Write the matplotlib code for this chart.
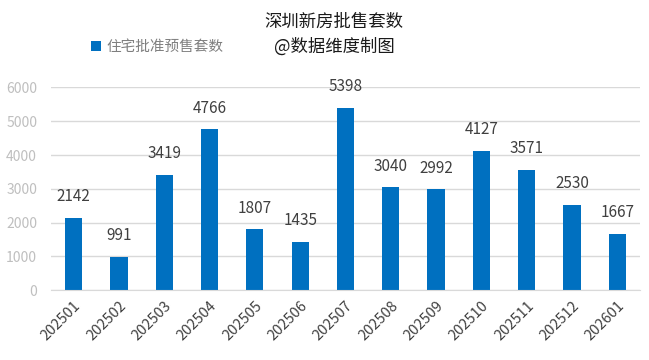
import matplotlib
matplotlib.use("Agg")
import matplotlib.pyplot as plt

plt.rcParams['font.family'] = ['Noto Sans CJK SC', 'DejaVu Sans']

months = ["202501", "202502", "202503", "202504", "202505", "202506", "202507",
          "202508", "202509", "202510", "202511", "202512", "202601"]
values = [2142, 991, 3419, 4766, 1807, 1435, 5398, 3040, 2992, 4127, 3571, 2530, 1667]
series_name = "住宅批准预售套数"
title_line1 = "深圳新房批售套数"
title_line2 = "@数据维度制图"
yticks = [0, 1000, 2000, 3000, 4000, 5000, 6000]

bar_color = "#0070c0"

fig = plt.figure(figsize=(6.49, 3.6), dpi=100)
ax = fig.add_axes([0.0786, 0.194, 0.9074, 0.563])

x = list(range(len(months)))
bars = ax.bar(x, values, width=0.38, color=bar_color, zorder=3)
for xi, v in zip(x, values):
    ax.annotate(str(v), (xi, v), xytext=(0, 9), textcoords="offset points",
                ha="center", va="bottom", fontsize=11, color="#404040")

ax.set_xlim(-0.5, len(months) - 0.5)
ax.set_ylim(0, 6000)
ax.set_yticks(yticks)
ax.set_yticklabels([str(t) for t in yticks], fontsize=10, color="#bfbfbf")
ax.set_xticks(x)
ax.set_xticklabels(months, rotation=45, ha="right", rotation_mode="anchor",
                   fontsize=10.5, color="#404040")
ax.tick_params(axis="both", length=0, pad=6)
ax.tick_params(axis="y", pad=10)
ax.yaxis.grid(True, color="#d9d9d9", linewidth=1, zorder=0)
for s in ["top", "right", "left"]:
    ax.spines[s].set_visible(False)
ax.spines["bottom"].set_color("#d9d9d9")
ax.spines["bottom"].set_zorder(4)

fig.text(0.515, 0.94, title_line1, ha="center", va="center", fontsize=12.5, color="#1a1a1a")
fig.text(0.515, 0.87, title_line2, ha="center", va="center", fontsize=12.5, color="#1a1a1a")

leg = fig.legend([bars], [series_name], loc="center left", bbox_to_anchor=(0.14, 0.87),
                 frameon=False, fontsize=10.5, handlelength=0.7, handleheight=0.7,
                 handletextpad=0.4, borderpad=0, borderaxespad=0)
for t in leg.get_texts():
    t.set_color("#7f7f7f")

fig.savefig("out.png", dpi=100)
